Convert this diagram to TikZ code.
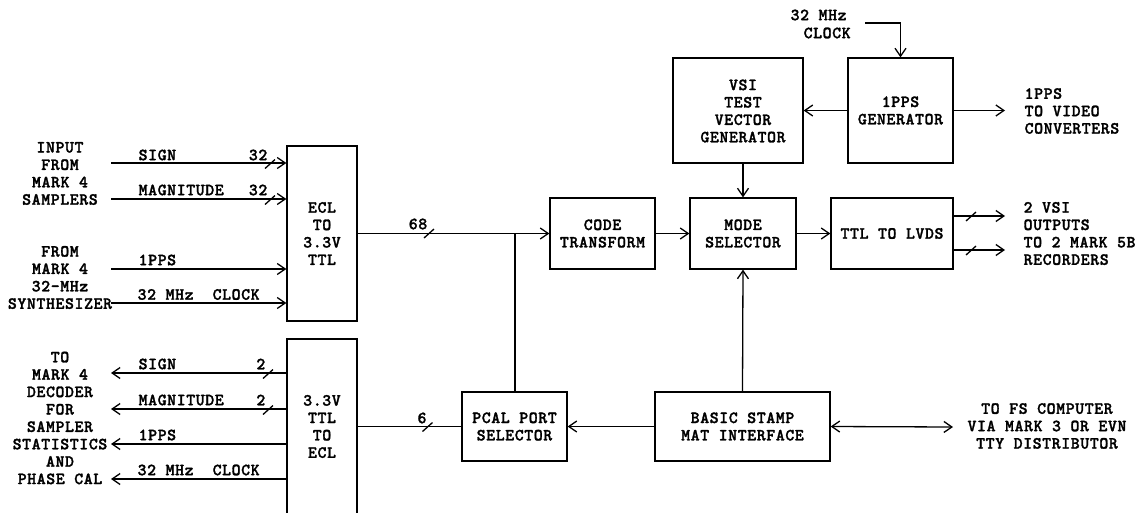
\documentclass[tikz,border=0pt]{standalone}
\usepackage{fontspec}
\usetikzlibrary{arrows.meta}
\IfFontExistsTF{lmmonolt10-bold.otf}
  {\newfontfamily\dfontfam{lmmonolt10-bold.otf}[LetterSpace=3.5,FakeBold=1.6]\newcommand\dfont{\dfontfam}}
  {\newfontfamily\dfontfam{Liberation Mono}\newcommand\dfont{\dfontfam\bfseries}}
\begin{document}
\begin{tikzpicture}[x=1pt,y=-1pt, line width=1.3pt,
  every node/.style={font=\dfont\fontsize{17}{17.4}\selectfont, inner sep=0pt},
  blk/.style={draw, align=center},
  txt/.style={align=center},
  arr/.style={-{Straight Barb[length=8pt,width=11pt,line width=1.3pt]}},
  darr/.style={{Straight Barb[length=8pt,width=11pt,line width=1.3pt]}-{Straight Barb[length=8pt,width=11pt,line width=1.3pt]}},
  busmark/.pic={\draw (-5,4.5) -- (5,-4.5);}]
\fill[white] (0,0) rectangle (1144,512);
\useasboundingbox (0,0) rectangle (1144,512);

% blocks
\node[blk, minimum width=70pt, minimum height=175pt] (ecl) at (322,233.5) {ECL\\TO\\3.3V\\TTL};
\node[blk, minimum width=70pt, minimum height=175pt] (ttlecl) at (322,426.5) {3.3V\\TTL\\TO\\ECL};
\node[blk, minimum width=105pt, minimum height=71pt] (code) at (602.5,233.5) {CODE\\TRANSFORM};
\node[blk, minimum width=106pt, minimum height=71pt] (mode) at (743,233.5) {MODE\\SELECTOR};
\node[blk, minimum width=122pt, minimum height=71pt] (lvds) at (892,233.5) {TTL TO LVDS};
\node[draw, minimum width=130pt, minimum height=105pt] (vsi) at (738,110.5) {};
\node[txt] (vsit) at (743,111) {VSI\\TEST\\VECTOR\\GENERATOR};
\node[blk, minimum width=105pt, minimum height=105pt] (gen) at (900.5,110.5) {1PPS\\GENERATOR};
\node[blk, minimum width=105pt, minimum height=69pt] (pcal) at (514.5,426.5) {PCAL PORT\\SELECTOR};
\node[blk, minimum width=175pt, minimum height=69pt] (basic) at (742.5,426.5) {BASIC STAMP\\MAT INTERFACE};

% left texts
\node[txt] (src1) at (60,173.5) {INPUT\\FROM\\MARK 4\\SAMPLERS};
\node[txt] (src2) at (60,277.5) {FROM\\MARK 4\\32-MHz\\SYNTHESIZER};
\node[txt] (dst1) at (60,418) {TO\\MARK 4\\DECODER\\FOR\\SAMPLER\\STATISTICS\\AND\\PHASE CAL};

% inputs to ECL
\coordinate (i1) at (111,163);
\coordinate (i2) at (111,199);
\coordinate (i3) at (111,269);
\coordinate (i4) at (111,303);
\draw[arr] (i1) -- (i1 -| ecl.west);
\draw[arr] (i2) -- (i2 -| ecl.west);
\draw[arr] (i3) -- (i3 -| ecl.west);
\draw[arr] (i4) -- (i4 -| ecl.west);
\pic at (270,164) {busmark};
\pic at (270,200) {busmark};
\node[anchor=west] (l1) at (138,155) {SIGN};
\node[anchor=west] (l2) at (138,190) {MAGNITUDE};
\node[anchor=west] (l3) at (138,260) {1PPS};
\node[anchor=west] (l4) at (137,294.5) {32 MHz\ \ CLOCK};
\node[anchor=east] (n1) at (268,155) {32};
\node[anchor=east] (n2) at (268,190) {32};

% outputs from TTL to ECL
\coordinate (o1) at (111,373);
\coordinate (o2) at (111,409);
\coordinate (o3) at (111,444);
\coordinate (o4) at (111,479);
\draw[arr] (o1 -| ttlecl.west) -- (o1);
\draw[arr] (o2 -| ttlecl.west) -- (o2);
\draw[arr] (o3 -| ttlecl.west) -- (o3);
\draw[arr] (o4 -| ttlecl.west) -- (o4);
\pic at (268,374) {busmark};
\pic at (268,410) {busmark};
\node[anchor=west] (m1) at (138,364) {SIGN};
\node[anchor=west] (m2) at (138,400) {MAGNITUDE};
\node[anchor=west] (m3) at (138,435) {1PPS};
\node[anchor=west] (m4) at (137,470) {32 MHz\ \ CLOCK};
\node[anchor=east] (k1) at (266,364) {2};
\node[anchor=east] (k2) at (266,400) {2};

% main path
\coordinate (j) at (515,233.5);
\draw[arr] (ecl.east) -- (code.west);
\pic at (429,233.5) {busmark};
\node (n68) at (418,224) {68};
\draw (j) -- (j |- pcal.north);
\draw[arr] (code.east) -- (mode.west);
\draw[arr] (mode.east) -- (lvds.west);
\draw[arr] (vsi.south -| mode.north) -- (mode.north);
\draw[arr] (basic.north) -- (mode.south);
\draw[arr] (basic.west) -- (pcal.east);
\draw (pcal.west) -- (ttlecl.east |- pcal.west);
\pic at (427.5,427) {busmark};
\node (n6) at (422,418) {6};

% LVDS outputs
\coordinate (v1) at (1005,216);
\coordinate (v2) at (1005,250);
\draw[arr] (v1 -| lvds.east) -- (v1);
\draw[arr] (v2 -| lvds.east) -- (v2);
\pic at (971,216.5) {busmark};
\pic at (971,250.5) {busmark};
\node[txt, align=left, anchor=west] (vout) at (1023,233.5) {2 VSI\\OUTPUTS\\TO 2 MARK 5B\\RECORDERS};

% 1PPS generator
\draw[arr] (gen.west) -- (vsi.east);
\coordinate (p1) at (1005,110.5);
\draw[arr] (gen.east) -- (p1);
\node[txt, align=left, anchor=west] (pout) at (1024,111) {1PPS\\TO VIDEO\\CONVERTERS};
\node[anchor=west] (c1) at (790,15) {32 MHz};
\node[anchor=west] (c2) at (803,33) {CLOCK};
\coordinate (cs) at (865,23);
\draw[arr] (cs) -| (gen.north);

% FS computer
\coordinate (fs) at (953,427);
\draw[darr] (basic.east) -- (fs);
\node[txt] (fst) at (1047,426) {TO FS COMPUTER\\VIA MARK 3 OR EVN\\TTY DISTRIBUTOR};
\end{tikzpicture}
\end{document}
